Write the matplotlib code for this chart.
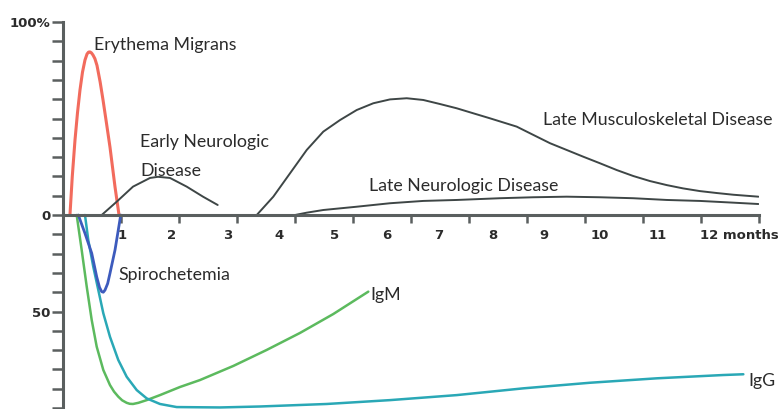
import numpy as np
import matplotlib.pyplot as plt

# curves: month, percent (negative = antibody side)
em_x = [0.12, 0.16, 0.207, 0.25, 0.293, 0.336, 0.379, 0.414, 0.44, 0.466, 0.49, 0.517,
        0.55, 0.586, 0.64, 0.69, 0.75, 0.81, 0.897, 0.966]
em_y = [0, 20, 38.9, 53, 64.8, 74, 80.3, 83.4, 84.4, 84.5, 84.0, 82.9,
        81, 77.5, 69, 59.6, 47.5, 35.2, 14.5, 0]

early_x = [0.667, 0.926, 1.207, 1.5, 1.638, 1.845, 2.133, 2.414, 2.667]
early_y = [0, 6.9, 14.7, 19.2, 19.8, 19.2, 14.7, 9.5, 5.2]

musc_x = [3.34, 3.626, 3.914, 4.202, 4.488, 4.776, 5.064, 5.35, 5.638, 5.926, 6.212, 6.5,
          6.788, 7.074, 7.362, 7.822, 8.109, 8.397, 8.684, 8.971, 9.259, 9.547, 9.833,
          10.12, 10.41, 10.69, 10.98, 11.27, 11.56, 11.99]
musc_y = [0, 9.5, 21.6, 33.7, 43.2, 49.2, 54.4, 57.9, 59.9, 60.5, 59.6, 57.5,
          55.3, 52.7, 50.1, 45.8, 41.5, 37.2, 33.7, 30.2, 26.8, 23.3, 20.2,
          17.6, 15.5, 13.8, 12.4, 11.4, 10.5, 9.5]

lateneuro_x = [4.0, 4.2, 4.488, 5.064, 5.638, 6.212, 6.788, 7.534, 8.109, 8.684, 9.259,
               9.833, 10.41, 10.98, 11.56, 11.99]
lateneuro_y = [0, 1.2, 2.6, 4.3, 6.1, 7.3, 7.8, 8.7, 9.2, 9.5, 9.2, 8.7, 7.8, 7.3, 6.4, 5.7]

spiro_x = [0.264, 0.379, 0.495, 0.581, 0.63, 0.667, 0.695, 0.724, 0.77, 0.81, 0.897, 0.953, 0.995]
spiro_y = [0, -9.5, -19.8, -32, -37.5, -39.7, -40, -38.9, -35.5, -30.2, -18.1, -7.8, 0]

igm_x = [0.236, 0.322, 0.409, 0.495, 0.581, 0.695, 0.81, 0.88, 0.953, 1.02, 1.098, 1.15,
         1.207, 1.3, 1.443, 1.672, 2.017, 2.362, 2.936, 3.512, 4.086, 4.66, 5.264]
igm_y = [0, -18.1, -37.1, -54.4, -68.2, -80.3, -88.1, -91.5, -94.1, -96, -97.3, -97.8,
         -97.9, -97.3, -95.9, -93.3, -89.1, -85.5, -78.2, -69.9, -61.1, -51.3, -39.7]

igg_x = [0.379, 0.436, 0.522, 0.609, 0.695, 0.81, 0.953, 1.098, 1.271, 1.443, 1.672,
         1.96, 2.707, 3.397, 4.547, 5.638, 6.788, 7.936, 9.086, 10.24, 11.38, 11.73]
igg_y = [0, -13, -26.8, -38.9, -50.9, -63.1, -75.1, -83.8, -90.7, -95, -97.9,
         -99.5, -99.7, -99.2, -97.9, -95.9, -93.3, -89.8, -86.9, -84.6, -82.9, -82.5]

month_labels = ['1', '2', '3', '4', '5', '6', '7', '8', '9', '10', '11']
month_label_pos = [1.02, 1.88, 2.84, 3.72, 4.69, 5.59, 6.48, 7.41, 8.29, 9.26, 10.26]

GRAY = '#3e4646'
AXC = '#5a5f5f'
TXT = '#2b2b2b'

fig = plt.figure(figsize=(7.78, 4.09), dpi=100)
ax = fig.add_axes([63 / 778, 0, 696 / 778, 387 / 409])

lk = dict(solid_joinstyle='round', solid_capstyle='round')
ax.plot(em_x, em_y, color='#f26b5d', lw=2.2, **lk)
ax.plot(early_x, early_y, color=GRAY, lw=1.4, **lk)
ax.plot(musc_x, musc_y, color=GRAY, lw=1.4, **lk)
ax.plot(lateneuro_x, lateneuro_y, color=GRAY, lw=1.4, **lk)
ax.plot(igm_x, igm_y, color='#5cba5e', lw=1.8, **lk)
ax.plot(igg_x, igg_y, color='#2aa8b6', lw=1.8, **lk)
ax.plot(spiro_x, spiro_y, color='#3d5bbd', lw=2.0, **lk)

ax.set_xlim(0, 12)
ax.set_ylim(-100.5, 100)

for s in ['top', 'right']:
    ax.spines[s].set_visible(False)
ax.spines['bottom'].set_position(('data', 0))
ax.spines['bottom'].set_color(AXC)
ax.spines['left'].set_color(AXC)
ax.spines['bottom'].set_linewidth(2.2)
ax.spines['left'].set_linewidth(2.2)

ax.set_xticks(np.arange(1, 13))
ax.set_xticklabels([])
ax.tick_params(axis='x', direction='out', length=6, width=1.8, color=AXC)

yt = np.arange(-100, 101, 10)
ax.set_yticks(yt)
ax.set_yticklabels(['50' if v == -50 else '0' if v == 0 else '100%' if v == 100 else '' for v in yt])
ax.tick_params(axis='y', direction='out', length=8, width=1.8, color=AXC,
               labelsize=9.5, labelcolor=TXT, pad=1)
for lab in ax.get_yticklabels():
    lab.set_fontweight('bold')
    lab.set_family('DejaVu Sans')

for lab, p in zip(month_labels, month_label_pos):
    ax.text(p, -10.4, lab, ha='center', va='center', fontsize=9.5, color=TXT,
            fontweight='bold', family='DejaVu Sans')
ax.text(10.98, -10.4, '12 months', ha='left', va='center', fontsize=9.5, color=TXT,
        fontweight='bold', family='DejaVu Sans', clip_on=False)

tf = dict(fontsize=12.8, color=TXT, family='Lato', va='center', ha='left')
ax.text(0.53, 88, 'Erythema Migrans', **tf)
ax.text(1.33, 38, 'Early Neurologic', **tf)
ax.text(1.33, 23, 'Disease', **tf)
ax.text(8.27, 49, 'Late Musculoskeletal Disease', clip_on=False, **tf)
ax.text(5.28, 15, 'Late Neurologic Disease', **tf)
ax.text(0.95, -31, 'Spirochetemia', **tf)
ax.text(5.3, -41.5, 'IgM', **tf)
ax.text(11.81, -86, 'IgG', clip_on=False, **tf)

fig.savefig('out.png', dpi=100)
